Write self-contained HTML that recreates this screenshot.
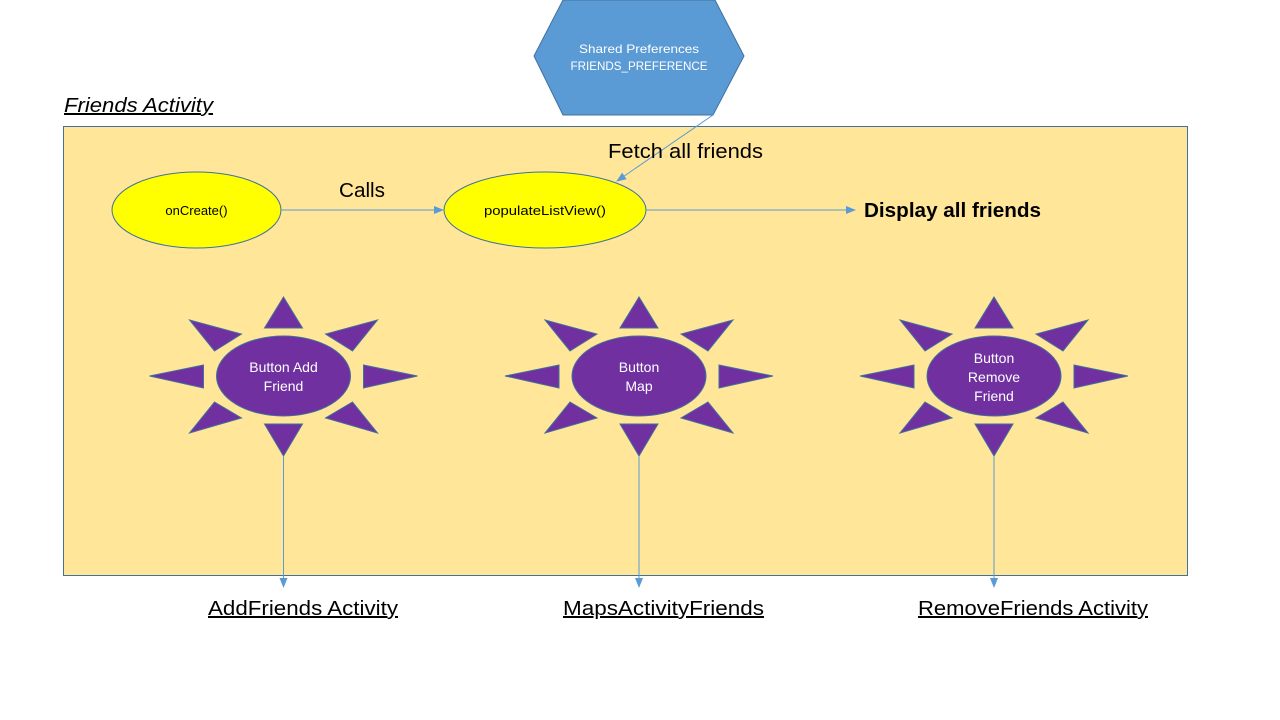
<!DOCTYPE html>
<html><head><meta charset="utf-8"><style>
html,body{margin:0;padding:0;background:#fff;width:1280px;height:720px;overflow:hidden}
svg text{font-family:"Liberation Sans",sans-serif}
</style></head><body>
<svg width="1280" height="720" viewBox="0 0 1280 720" xmlns="http://www.w3.org/2000/svg">
<defs>
<marker id="a" markerWidth="10" markerHeight="8" refX="9" refY="4" orient="auto" markerUnits="userSpaceOnUse">
<path d="M0,0 L10,4 L0,8 z" fill="#5b9bd5"/></marker>
<g id="sun" fill="#7030a0" stroke="#41719c" stroke-width="1">
<ellipse cx="0" cy="0" rx="67" ry="40"/>
<polygon points="-19,-48 19,-48 0,-79"/>
<polygon points="-19,48 19,48 0,80"/>
<polygon points="-134,0 -80,-11 -80,12"/>
<polygon points="134,0 80,-11 80,12"/>
<polygon points="-94,-56 -42,-42 -69,-25"/>
<polygon points="94,-56 42,-42 69,-25"/>
<polygon points="-94,57 -42,42 -69,26"/>
<polygon points="94,57 42,42 69,26"/>
</g>
</defs>
<text x="64" y="112" font-size="20" font-style="italic" text-decoration="underline" textLength="149" lengthAdjust="spacingAndGlyphs">Friends Activity</text>
<rect x="63.5" y="126.5" width="1124" height="449" fill="#ffe699" stroke="#41719c" stroke-width="1"/>
<polygon points="534,56 563,0 715,0 744,56 713,115 563,115" fill="#5b9bd5" stroke="#41719c"/>
<text x="639" y="53" font-size="12" fill="#fff" text-anchor="middle" textLength="120" lengthAdjust="spacingAndGlyphs">Shared Preferences</text>
<text x="639" y="70" font-size="12" fill="#fff" text-anchor="middle" textLength="137" lengthAdjust="spacingAndGlyphs">FRIENDS_PREFERENCE</text>
<line x1="713" y1="115" x2="617" y2="181" stroke="#5b9bd5" stroke-width="1" marker-end="url(#a)"/>
<text x="608" y="158" font-size="20" textLength="155" lengthAdjust="spacingAndGlyphs">Fetch all friends</text>
<ellipse cx="196.5" cy="210" rx="84.5" ry="38" fill="#ffff00" stroke="#41719c"/>
<text x="196.5" y="215" font-size="13" text-anchor="middle">onCreate()</text>
<ellipse cx="545" cy="210" rx="101" ry="38" fill="#ffff00" stroke="#41719c"/>
<text x="545" y="215" font-size="13" text-anchor="middle" textLength="122" lengthAdjust="spacingAndGlyphs">populateListView()</text>
<line x1="281" y1="210" x2="443" y2="210" stroke="#5b9bd5" marker-end="url(#a)"/>
<text x="339" y="197" font-size="20" textLength="46" lengthAdjust="spacingAndGlyphs">Calls</text>
<line x1="646" y1="210" x2="855" y2="210" stroke="#5b9bd5" marker-end="url(#a)"/>
<text x="864" y="217" font-size="20" font-weight="bold" textLength="177" lengthAdjust="spacingAndGlyphs">Display all friends</text>
<use href="#sun" x="283.5" y="376"/>
<use href="#sun" x="639" y="376"/>
<use href="#sun" x="994" y="376"/>
<text x="283.5" y="372" font-size="14" fill="#fff" text-anchor="middle">Button Add</text>
<text x="283.5" y="391" font-size="14" fill="#fff" text-anchor="middle">Friend</text>
<text x="639" y="372" font-size="14" fill="#fff" text-anchor="middle">Button</text>
<text x="639" y="391" font-size="14" fill="#fff" text-anchor="middle">Map</text>
<text x="994" y="363" font-size="14" fill="#fff" text-anchor="middle">Button</text>
<text x="994" y="382" font-size="14" fill="#fff" text-anchor="middle">Remove</text>
<text x="994" y="401" font-size="14" fill="#fff" text-anchor="middle">Friend</text>
<line x1="283.5" y1="456" x2="283.5" y2="587" stroke="#5b9bd5" marker-end="url(#a)"/>
<line x1="639" y1="456" x2="639" y2="587" stroke="#5b9bd5" marker-end="url(#a)"/>
<line x1="994" y1="456" x2="994" y2="587" stroke="#5b9bd5" marker-end="url(#a)"/>
<text x="208" y="615" font-size="20" text-decoration="underline" textLength="190" lengthAdjust="spacingAndGlyphs">AddFriends Activity</text>
<text x="563" y="615" font-size="20" text-decoration="underline" textLength="201" lengthAdjust="spacingAndGlyphs">MapsActivityFriends</text>
<text x="918" y="615" font-size="20" text-decoration="underline" textLength="230" lengthAdjust="spacingAndGlyphs">RemoveFriends Activity</text>
</svg>
</body></html>
